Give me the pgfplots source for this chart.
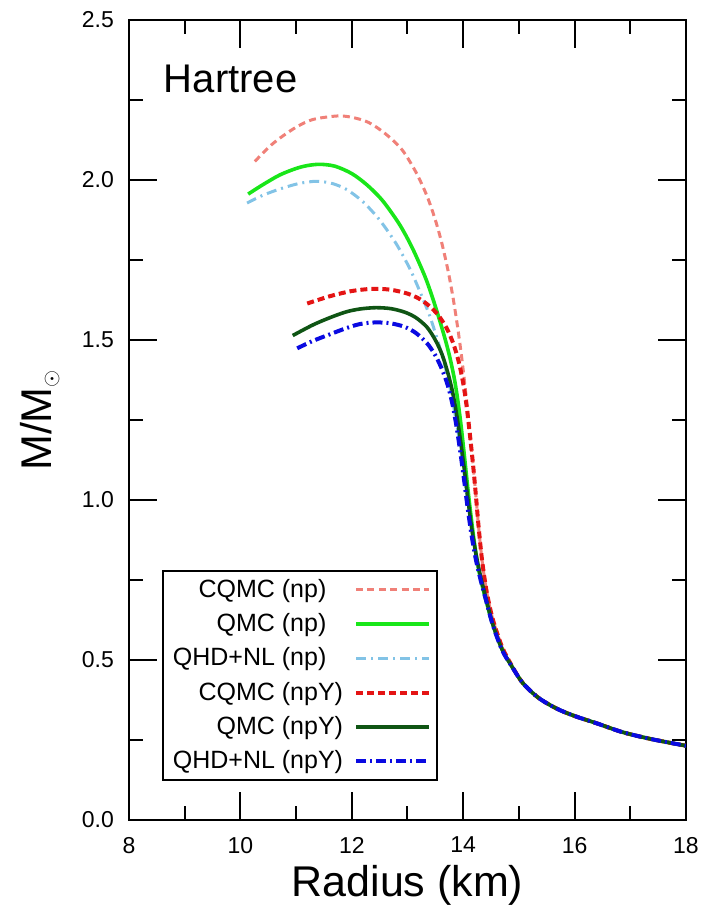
\documentclass[border=0pt]{standalone}
\usepackage{fontspec}
\setmainfont{Liberation Sans}
\usepackage{pgfplots}
\pgfplotsset{compat=1.18}
\definecolor{cqmcnp}{RGB}{240,128,120}
\definecolor{qmcnp}{RGB}{25,230,25}
\definecolor{qhdnp}{RGB}{130,195,230}
\definecolor{cqmcnpy}{RGB}{228,20,20}
\definecolor{qmcnpy}{RGB}{15,85,20}
\definecolor{qhdnpy}{RGB}{10,10,225}
\begin{document}
\begin{tikzpicture}
\path[use as bounding box] (-64.5pt,-43.5pt) rectangle (286.5pt,410pt);
\begin{axis}[
  scale only axis, width=278.5pt, height=400pt,
  xmin=8, xmax=18, ymin=0, ymax=2.5,
  xtick={8,10,...,18}, ytick={0,0.5,...,2.5},
  minor x tick num=1, minor y tick num=1,
  tick align=inside, tick pos=both,
  major tick length=14pt, minor tick length=7pt,
  axis line style={line width=1pt},
  every tick/.style={line width=1pt, black},
  /pgf/number format/assume math mode=true,
  tick label style={font=\fontsize{11.5}{13}\selectfont},
  yticklabel style={/tikz/xshift=-4pt, /pgf/number format/.cd, fixed, fixed zerofill, precision=1},
  xticklabel style={/tikz/yshift=-5pt},
  xlabel={Radius (km)},
  ylabel={M/M$_{\scriptscriptstyle\odot}$},
  xlabel style={at={(axis description cs:0.5,0)}, anchor=center, yshift=-32.5pt,
    font=\fontsize{21.5}{26}\selectfont},
  ylabel style={at={(axis description cs:-0.16,0.5)}, anchor=center,
    font=\fontsize{21.5}{26}\selectfont},
  legend style={at={(0.059,0.049)}, anchor=south west, draw=black, line width=1pt,
    font=\fontsize{12.5}{15}\selectfont, row sep=2.6pt, column sep=3.5pt,
    inner xsep=3pt, inner ysep=2pt},
  legend cell align=right, legend plot pos=right,
  legend image code/.code={\draw[#1] (0pt,0pt) -- (36.5pt,0pt);},
]
% CQMC (np)
\addplot[cqmcnp, line width=1.5pt, dash pattern=on 3.5pt off 2.2pt, smooth] coordinates {
(10.26,2.058) (10.50,2.101) (10.71,2.131) (11.00,2.165) (11.30,2.189)
(11.73,2.200) (12.00,2.196) (12.30,2.180) (12.60,2.145) (12.90,2.095)
(13.15,2.025) (13.35,1.950) (13.50,1.875) (13.62,1.800) (13.73,1.715)
(13.82,1.630) (13.90,1.540) (13.97,1.450) (14.03,1.360) (14.08,1.280)
(14.13,1.190) (14.18,1.105) (14.23,1.010) (14.28,0.910) (14.34,0.810)
(14.42,0.715) (14.53,0.628) (14.70,0.540) (14.88,0.480) (15.07,0.428)
(15.35,0.382) (15.68,0.348) (16.00,0.325) (16.40,0.302) (16.87,0.274)
(17.40,0.252) (18.00,0.232)};
\addlegendentry{CQMC (np)\phantom{Y}}
% QMC (np)
\addplot[qmcnp, line width=1.8pt, smooth] coordinates {
(10.14,1.956) (10.40,1.985) (10.71,2.016) (11.00,2.036) (11.20,2.045)
(11.43,2.049) (11.70,2.043) (12.00,2.020) (12.27,1.985) (12.55,1.936)
(12.85,1.863) (13.08,1.790) (13.31,1.700) (13.45,1.632) (13.58,1.560)
(13.68,1.500) (13.76,1.446) (13.84,1.380) (13.90,1.315) (13.96,1.235)
(14.02,1.140) (14.10,1.010) (14.19,0.880) (14.28,0.780) (14.38,0.705)
(14.53,0.612) (14.70,0.533) (14.88,0.478) (15.07,0.428) (15.35,0.382)
(15.68,0.348) (16.00,0.325) (16.40,0.302) (16.87,0.274) (17.40,0.252)
(18.00,0.232)};
\addlegendentry{QMC (np)\phantom{Y}}
% QHD+NL (np)
\addplot[qhdnp, line width=1.5pt, dash pattern=on 5pt off 2.5pt on 1pt off 2.5pt, smooth] coordinates {
(10.12,1.928) (10.40,1.952) (10.71,1.972) (11.05,1.989) (11.37,1.996)
(11.65,1.989) (11.91,1.970) (12.20,1.932) (12.50,1.875) (12.80,1.800)
(13.05,1.720) (13.25,1.640) (13.40,1.575) (13.53,1.505) (13.64,1.440)
(13.74,1.370) (13.82,1.300) (13.90,1.220) (13.97,1.140) (14.04,1.050)
(14.11,0.960) (14.19,0.870) (14.27,0.790) (14.36,0.720) (14.53,0.610)
(14.70,0.530) (14.88,0.478) (15.07,0.428) (15.35,0.382) (15.68,0.348)
(16.00,0.325) (16.40,0.302) (16.87,0.274) (17.40,0.252) (18.00,0.232)};
\addlegendentry{QHD+NL (np)\phantom{Y}}
% CQMC (npY)
\addplot[cqmcnpy, line width=2pt, dash pattern=on 3.5pt off 2pt, smooth] coordinates {
(11.20,1.614) (11.61,1.637) (12.00,1.653) (12.38,1.660) (12.70,1.657)
(13.00,1.645) (13.22,1.628) (13.40,1.605) (13.55,1.578) (13.70,1.538)
(13.82,1.490) (13.92,1.432) (14.00,1.365) (14.06,1.295) (14.12,1.205)
(14.18,1.105) (14.23,1.010) (14.28,0.910) (14.34,0.810) (14.42,0.715)
(14.53,0.628) (14.70,0.540) (14.88,0.480) (15.07,0.428) (15.35,0.382)
(15.68,0.348) (16.00,0.325) (16.40,0.302) (16.87,0.274) (17.40,0.252)
(18.00,0.232)};
\addlegendentry{CQMC (npY)}
% QMC (npY)
\addplot[qmcnpy, line width=1.8pt, smooth] coordinates {
(10.94,1.514) (11.30,1.547) (11.61,1.570) (11.90,1.588) (12.15,1.597)
(12.43,1.601) (12.70,1.598) (12.95,1.587) (13.15,1.570) (13.35,1.540)
(13.50,1.500) (13.62,1.455) (13.72,1.400) (13.80,1.345) (13.87,1.280)
(13.94,1.200) (14.01,1.110) (14.08,1.010) (14.15,0.915) (14.23,0.830)
(14.32,0.755) (14.42,0.685) (14.53,0.612) (14.70,0.532) (14.88,0.478)
(15.07,0.428) (15.35,0.382) (15.68,0.348) (16.00,0.325) (16.40,0.302)
(16.87,0.274) (17.40,0.252) (18.00,0.232)};
\addlegendentry{QMC (npY)}
% QHD+NL (npY)
\addplot[qhdnpy, line width=2pt, dash pattern=on 5pt off 2pt on 1pt off 2pt, smooth] coordinates {
(11.02,1.474) (11.30,1.497) (11.61,1.518) (11.90,1.537) (12.15,1.550)
(12.43,1.555) (12.70,1.552) (12.95,1.541) (13.15,1.522) (13.35,1.490)
(13.50,1.452) (13.62,1.408) (13.72,1.360) (13.80,1.305) (13.87,1.240)
(13.94,1.160) (14.01,1.070) (14.08,0.975) (14.15,0.890) (14.23,0.812)
(14.32,0.745) (14.42,0.680) (14.53,0.610) (14.70,0.530) (14.88,0.478)
(15.07,0.428) (15.35,0.382) (15.68,0.348) (16.00,0.325) (16.40,0.302)
(16.87,0.274) (17.40,0.252) (18.00,0.232)};
\addlegendentry{QHD+NL (npY)}
\node[anchor=base west, font=\fontsize{20}{24}\selectfont] at (axis cs:8.5,2.275) {Hartree};
\end{axis}
\end{tikzpicture}
\end{document}
